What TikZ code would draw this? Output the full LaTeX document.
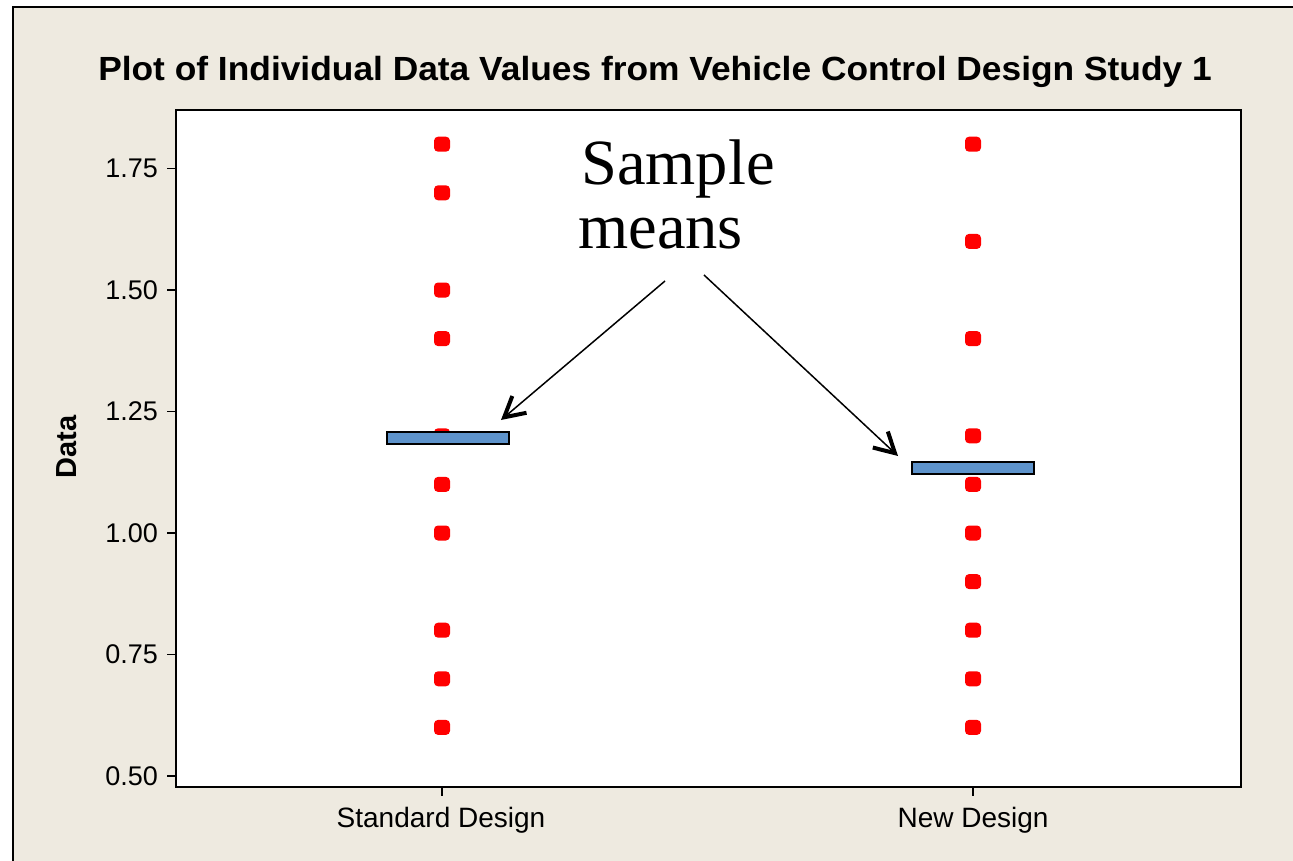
\documentclass[tikz,border=0pt]{standalone}
\usepackage{fontspec}
\setmainfont{Liberation Sans}
\newfontfamily\serifT{Liberation Serif}
\usetikzlibrary{arrows.meta}
\definecolor{bgbeige}{HTML}{EEEAE0}
\definecolor{barblue}{HTML}{5E93CB}
\begin{document}
\begin{tikzpicture}[x=1pt,y=-1pt,
  dotnode/.style={rectangle, fill=red, rounded corners=4pt, minimum width=16pt, minimum height=15pt, inner sep=0pt},
  meanbar/.style={rectangle, draw=black, fill=barblue, line width=1.8pt, minimum width=122pt, minimum height=12pt, inner sep=0pt},
  ticklab/.style={anchor=east, font=\fontsize{27}{30}\selectfont, inner sep=0pt},
  catlab/.style={anchor=base, font=\fontsize{28}{32}\selectfont, inner sep=0pt},
  callout/.style={line width=1.5pt, -{Straight Barb[length=20pt,width=22pt,line width=4pt]}},
  bigserif/.style={anchor=base west, font=\serifT\fontsize{64.5}{64}\selectfont, inner sep=0pt}]
\useasboundingbox (0,0) rectangle (1293,861);
\fill[white] (0,0) rectangle (1293,861);
\fill[bgbeige] (13,7) rectangle (1293,861);
\draw[line width=2pt] (13,861) -- (13,7) -- (1293,7);
% plot area
\fill[white] (176,110) rectangle (1241,787);
% title
\node[anchor=base, inner sep=0pt, font=\bfseries\fontsize{33.5}{36}\selectfont] (title) at (655,81) {\scalebox{1.055}[1]{Plot of Individual Data Values from Vehicle Control Design Study 1}};
% y label
\node[rotate=90, inner sep=0pt, font=\bfseries\fontsize{29}{32}\selectfont] (ylab) at (67,447) {Data};
% y ticks
\foreach \v/\t in {0.5/0.50,0.75/0.75,1.0/1.00,1.25/1.25,1.5/1.50,1.75/1.75} {
  \draw[line width=1.5pt] (176,{776-(\v-0.5)*486}) -- (167,{776-(\v-0.5)*486});
  \node[ticklab] at (158,{776-(\v-0.5)*486}) {\t};
}
% x ticks
\draw[line width=1.5pt] (442,787) -- (442,796);
\draw[line width=1.5pt] (973,787) -- (973,796);
\node[catlab] (xs) at (441,827) {Standard Design};
\node[catlab] (xn) at (973,827) {New Design};
% dots
\foreach \v [count=\i] in {1.8,1.7,1.5,1.4,1.2,1.1,1.0,0.8,0.7,0.6}
  \node[dotnode] (s\i) at (442,{776-(\v-0.5)*486}) {};
\foreach \v [count=\i] in {1.8,1.6,1.4,1.2,1.1,1.0,0.9,0.8,0.7,0.6}
  \node[dotnode] (n\i) at (973,{776-(\v-0.5)*486}) {};
% mean bars
\node[meanbar] (barS) at (448,438) {};
\node[meanbar] (barN) at (973,468) {};
% frame
\draw[line width=2.5pt] (176,110) rectangle (1241,787);
% callout text
\node[bigserif] (lblA) at (581,185) {Sample};
\node[bigserif] (lblB) at (578,248) {means};
\coordinate (a1) at (665,281);
\coordinate (a2) at (704,275);
\coordinate (t1) at (501,420);
\coordinate (t2) at (898,456);
\draw[callout] (a1) -- (t1);
\draw[callout] (a2) -- (t2);
\end{tikzpicture}
\end{document}
